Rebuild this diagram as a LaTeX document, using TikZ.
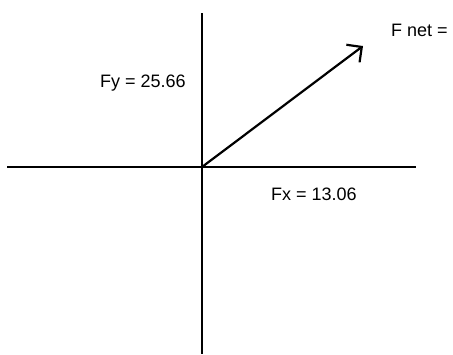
\documentclass[tikz,border=0pt]{standalone}
\usepackage{fontspec}
\setmainfont{Liberation Sans}
\usetikzlibrary{arrows.meta}
\newcommand{\labfont}{\fontsize{18}{20}\selectfont}
\begin{document}
\begin{tikzpicture}[x=1pt,y=-1pt,line width=2.2pt,every node/.style={font=\labfont,inner sep=0pt,anchor=base west}]
\useasboundingbox (0,0) rectangle (453,354);
\coordinate (o) at (202,167);\coordinate (xl) at (7,167);\coordinate (xr) at (416,167);\coordinate (yt) at (202,13);\coordinate (yb) at (202,354);
\draw (xl)--(xr);\draw (yt)--(yb);
\coordinate (tip) at (363,46);
\draw[-{Straight Barb[length=11pt,width=22pt,line width=2.2pt]}] (o)--(tip);
\node (fnet) at (390,36) {F net =};
\node (fy) at (99,87) {Fy = 25.66};
\node (fx) at (270,200) {Fx = 13.06};
\end{tikzpicture}
\end{document}
